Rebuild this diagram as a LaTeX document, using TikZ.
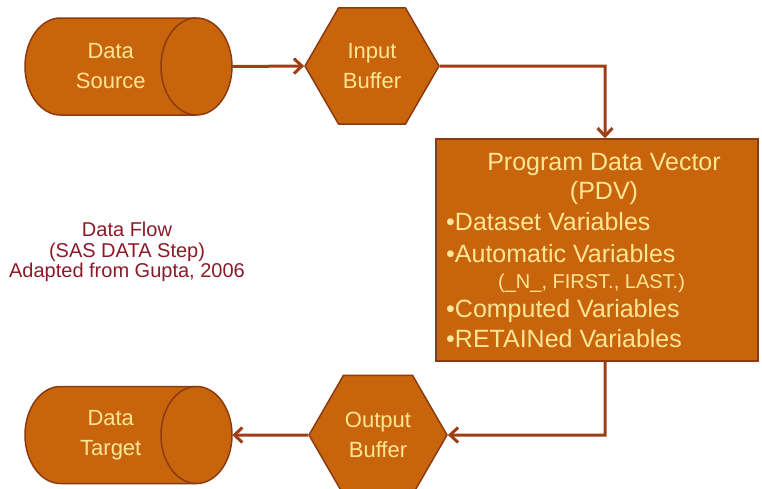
\documentclass[tikz,border=0pt]{standalone}
\usepackage{fontspec}
\setmainfont{Liberation Sans}
\usetikzlibrary{shapes.geometric, arrows.meta}
\definecolor{boxfill}{RGB}{200,101,12}
\definecolor{boxline}{RGB}{140,58,16}
\definecolor{flowline}{RGB}{158,62,22}
\definecolor{boxtext}{RGB}{255,230,150}
\definecolor{notetext}{RGB}{140,25,40}

\begin{document}
\begin{tikzpicture}[x=1pt, y=-1pt,
    store/.style={minimum width=171.5pt, minimum height=97pt, inner sep=0pt,
      text=boxtext, align=center, font=\fontsize{22}{30}\selectfont},
    drum/.style={draw=boxline, fill=boxfill, line width=1.5pt},
    buffer/.style={regular polygon, regular polygon sides=6, draw=boxline,
      fill=boxfill, line width=1.5pt, minimum size=134pt, inner sep=0pt,
      text=boxtext, align=center, font=\fontsize{22}{30}\selectfont},
    pdvtext/.style={text=boxtext, inner sep=0pt, font=\fontsize{25}{28}\selectfont},
    smalltext/.style={text=boxtext, inner sep=0pt, font=\fontsize{20}{22}\selectfont},
    flow/.style={draw=flowline, line width=3pt, -{Straight Barb[length=8pt, width=15pt]}}]
    \useasboundingbox (0,0) rectangle (762,488);

    % Drums (drawn under the named nodes)
    \coordinate (srcpos) at (110.75,66.5);
    \coordinate (tgtpos) at (110.75,435);
    \foreach \d in {src,tgt} {
      \draw[drum] ([xshift=35.5pt, yshift=48.5pt]\d pos)
        -- ([xshift=85.75pt, yshift=48.5pt]\d pos)
        arc[start angle=90, end angle=-90, x radius=35.5pt, y radius=48.5pt]
        -- ([xshift=-50.25pt, yshift=-48.5pt]\d pos)
        arc[start angle=270, end angle=90, x radius=35.5pt, y radius=48.5pt]
        -- cycle;
      \draw[drum, fill=none] ([xshift=85.75pt, yshift=48.5pt]\d pos)
        arc[start angle=90, end angle=270, x radius=35.5pt, y radius=48.5pt];
    }

    % Nodes
    \node[store] (src) at (srcpos) {Data\\Source};
    \node[buffer] (inbuf) at (372,66) {Input\\Buffer};
    \node[draw=boxline, fill=boxfill, line width=1.5pt, minimum width=322pt,
      minimum height=222pt, inner sep=0pt] (pdv) at (597,250) {};
    \node[buffer, minimum size=138pt] (outbuf) at (378,435) {Output\\Buffer};
    \node[store] (tgt) at (tgtpos) {Data\\Target};
    \coordinate (srcend) at ([xshift=35.5pt]src.east);
    \coordinate (tgtend) at ([xshift=35.5pt]tgt.east);

    % PDV contents
    \node[pdvtext, anchor=base] (title) at (604,170) {Program Data Vector};
    \node[pdvtext, anchor=base] (abbr) at (604,199) {(PDV)};
    \node[pdvtext, anchor=base west] (dsvars) at (446,230) {•Dataset Variables};
    \node[pdvtext, anchor=base west] (autovars) at (446,262) {•Automatic Variables};
    \node[smalltext, anchor=base west] (autolist) at (498,288) {(\_N\_, FIRST., LAST.)};
    \node[pdvtext, anchor=base west] (compvars) at (446,317) {•Computed Variables};
    \node[pdvtext, anchor=base west] (retvars) at (446,347) {•RETAINed Variables};

    % Caption
    \node[text=notetext, align=center, font=\fontsize{20}{20.5}\selectfont]
      (note) at (127,252) {Data Flow\\(SAS DATA Step)\\Adapted from Gupta, 2006};

    % Edges
    \coordinate (turnin) at (605,66);
    \coordinate (turnout) at (605,435);
    \draw[flow] (srcend) -- (inbuf.west);
    \draw[flow] (inbuf.east) -- (turnin) -- (turnin |- pdv.north);
    \draw[flow] (turnout |- pdv.south) -- (turnout) -- (outbuf.east);
    \draw[flow] (outbuf.west) -- (tgtend);
\end{tikzpicture}
\end{document}
